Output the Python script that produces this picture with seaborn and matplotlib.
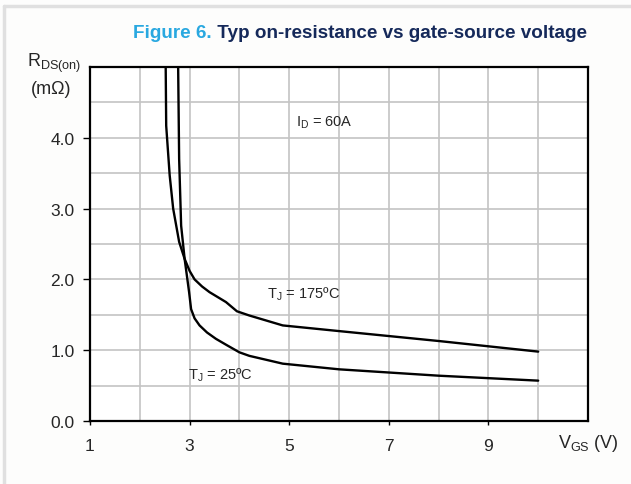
import matplotlib
matplotlib.use("Agg")
import matplotlib.pyplot as plt
from matplotlib.lines import Line2D
import numpy as np
import pandas as pd
import seaborn as sns

# Gate-source voltage (V) and on-resistance (mOhm) for each junction temperature
vgs_175 = [2.52, 2.53, 2.60, 2.67, 2.79, 2.90, 3.00, 3.10, 3.25, 3.40, 3.73, 3.95, 4.20, 4.87, 6.00, 8.00, 10.00]
rds_175 = [5.00, 4.17, 3.47, 3.00, 2.53, 2.29, 2.12, 2.00, 1.90, 1.82, 1.68, 1.55, 1.49, 1.35, 1.27, 1.13, 0.98]

vgs_25 = [2.77, 2.79, 2.83, 2.90, 2.99, 3.03, 3.10, 3.20, 3.35, 3.53, 3.75, 4.00, 4.20, 4.87, 6.00, 8.00, 10.00]
rds_25 = [5.00, 3.70, 2.76, 2.29, 1.82, 1.58, 1.45, 1.35, 1.25, 1.16, 1.07, 0.97, 0.92, 0.81, 0.73, 0.64, 0.57]

x_ticks = [1, 3, 5, 7, 9]
y_ticks = [0.0, 1.0, 2.0, 3.0, 4.0]
y_tick_labels = ["0.0", "1.0", "2.0", "3.0", "4.0"]

df = pd.concat([
    pd.DataFrame({"vgs": vgs_175, "rds": rds_175, "tj": "175"}),
    pd.DataFrame({"vgs": vgs_25, "rds": rds_25, "tj": "25"}),
])

sns.set_theme(style="white")
plt.rcParams["font.family"] = ["Liberation Sans", "DejaVu Sans"]
plt.rcParams["mathtext.fontset"] = "custom"
plt.rcParams["mathtext.rm"] = "Liberation Sans"

fig = plt.figure(figsize=(6.31, 4.85), dpi=100, facecolor="#fdfdfc")
ax = fig.add_axes([90 / 631, 1 - 422 / 485, 498 / 631, 354 / 485])
ax.set_facecolor("white")

sns.lineplot(data=df, x="vgs", y="rds", units="tj", estimator=None,
             color="black", linewidth=1.7, sort=False, ax=ax)

ax.set_xlim(1, 11)
ax.set_ylim(0, 5)
ax.set_xticks(x_ticks)
ax.set_xticklabels([str(v) for v in x_ticks])
ax.set_xticks(np.arange(1, 12, 1), minor=True)
ax.set_yticks(y_ticks)
ax.set_yticklabels(y_tick_labels)
ax.set_yticks(np.arange(0, 5.01, 0.5), minor=True)
ax.grid(True, which="both", color="#c4c4c4", linewidth=1.2)
ax.set_axisbelow(True)
ax.tick_params(axis="y", which="major", direction="out", length=5, width=1,
               color="black", labelsize=12.5, pad=6, left=True)
ax.tick_params(axis="x", which="major", direction="out", length=3, width=1,
               color="black", labelsize=12.5, pad=9, bottom=True)
ax.tick_params(which="minor", length=0)
for s in ax.spines.values():
    s.set_color("black")
    s.set_linewidth(1.6)
ax.set_xlabel("")
ax.set_ylabel("")

# Curve annotations
ax.text(5.14, 4.23, r"$\mathregular{I_D}$ = 60A", fontsize=10.5, ha="left", va="center")
ax.text(4.56, 1.80, r"$\mathregular{T_J}$ = 175ºC", fontsize=10.5, ha="left", va="center")
ax.text(2.96, 0.66, r"$\mathregular{T_J}$ = 25ºC", fontsize=10.5, ha="left", va="center")

# Axis titles
fig.text(54 / 631, 1 - 63 / 485, r"$\mathregular{R_{DS(on)}}$", fontsize=13,
         ha="center", va="center")
fig.text(51 / 631, 1 - 90 / 485, "(mΩ)", fontsize=13, ha="center", va="center")
fig.text(588 / 631, 1 - 444 / 485, r"$\mathregular{V_{GS}}$ (V)", fontsize=13,
         ha="center", va="center")

# Title in two colours: the second part is placed right after the first
t1 = fig.text(133 / 631, 1 - 38 / 485, "Figure 6.", fontsize=13.6, fontweight="bold",
              color="#29a8e0", ha="left", va="baseline")
ax.annotate(" Typ on-resistance vs gate-source voltage", xy=(1, 0), xycoords=t1,
            xytext=(0, 0), textcoords="offset points", fontsize=13.6,
            fontweight="bold", color="#15295a", ha="left", va="bottom",
            annotation_clip=False)

# Page frame lines
fig.add_artist(Line2D([4 / 631, 1], [1 - 7 / 485, 1 - 7 / 485], color="#e0e0e0",
                      linewidth=2.5, transform=fig.transFigure))
fig.add_artist(Line2D([4 / 631, 4 / 631], [0, 1 - 7 / 485], color="#e0e0e0",
                      linewidth=2.5, transform=fig.transFigure))

fig.savefig("out.png", dpi=100, facecolor=fig.get_facecolor())
